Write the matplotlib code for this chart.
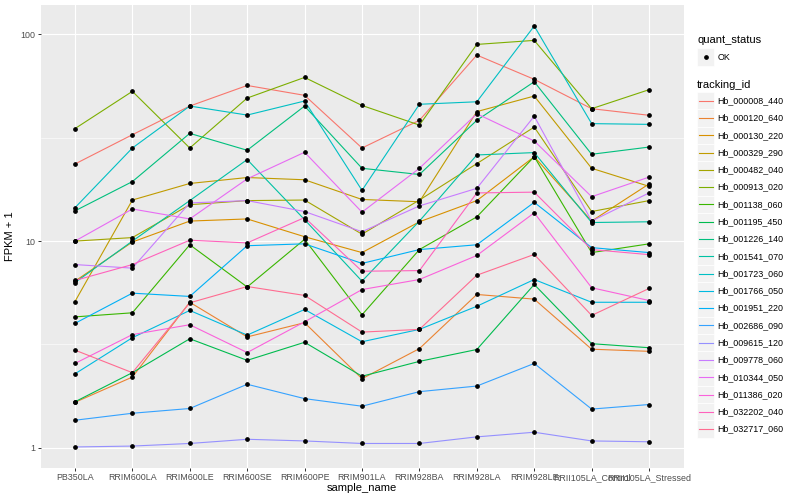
import numpy as np
import matplotlib.pyplot as plt
from matplotlib.patches import Rectangle

plt.rcParams['font.family'] = ['Liberation Sans', 'DejaVu Sans']

samples = ["PB350LA", "RRIM600LA", "RRIM600LE", "RRIM600SE", "RRIM600PE",
           "RRIM901LA", "RRIM928BA", "RRIM928LA", "RRIM928LE",
           "RRII105LA_Control", "RRII105LA_Stressed"]

tracking_ids = ["Hb_000008_440", "Hb_000120_640", "Hb_000130_220", "Hb_000329_290",
                "Hb_000482_040", "Hb_000913_020", "Hb_001138_060", "Hb_001195_450",
                "Hb_001226_140", "Hb_001541_070", "Hb_001723_060", "Hb_001766_050",
                "Hb_001951_220", "Hb_002686_090", "Hb_009615_120", "Hb_009778_060",
                "Hb_010344_050", "Hb_011386_020", "Hb_032202_040", "Hb_032717_060"]

# ggplot default hue palette, 20 levels
colors = ["#F8766D", "#EA8331", "#D89000", "#C09B00", "#A3A500", "#7CAE00",
          "#39B600", "#00BB4E", "#00BF7D", "#00C1A3", "#00BFC4", "#00BAE0",
          "#00B0F6", "#35A2FF", "#9590FF", "#C77CFF", "#E76BF3", "#FA62DB",
          "#FF62BC", "#FF6C91"]

# FPKM + 1 per sample (same order as samples)
fpkm_000008_440 = [23.6, 32.7, 45.0, 56.6, 50.7, 28.2, 38.4, 79.4, 60.6, 43.7, 40.6]
fpkm_000120_640 = [1.66, 2.20, 5.06, 3.44, 4.03, 2.16, 3.02, 5.52, 5.24, 3.00, 2.93]
fpkm_000130_220 = [6.4, 9.9, 12.5, 12.8, 10.5, 8.8, 12.4, 15.7, 25.6, 12.5, 18.9]
fpkm_000329_290 = [5.1, 15.8, 19.0, 20.3, 19.8, 15.9, 15.5, 42.3, 50.3, 22.5, 18.4]
fpkm_000482_040 = [10.0, 10.4, 15.0, 15.7, 15.8, 10.8, 15.8, 23.7, 35.6, 13.9, 15.7]
fpkm_000913_020 = [35.0, 53.0, 28.2, 49.2, 61.9, 45.3, 36.4, 89.4, 93.5, 43.7, 54.0]
fpkm_001138_060 = [4.3, 4.5, 9.6, 6.0, 10.2, 4.4, 9.1, 13.1, 25.6, 8.8, 9.7]
fpkm_001195_450 = [1.67, 2.31, 3.37, 2.65, 3.24, 2.22, 2.62, 2.99, 6.17, 3.19, 3.05]
fpkm_001226_140 = [14.0, 19.4, 33.2, 27.5, 45.0, 22.5, 21.0, 38.4, 59.0, 26.3, 28.5]
fpkm_001541_070 = [6.3, 10.0, 15.7, 24.8, 12.7, 6.4, 12.5, 26.1, 26.8, 12.3, 12.4]
fpkm_001723_060 = [14.5, 28.2, 45.0, 40.7, 47.6, 17.6, 45.9, 47.2, 109.7, 37.0, 36.7]
fpkm_001766_050 = [2.28, 3.41, 4.62, 3.51, 4.67, 3.26, 3.74, 4.84, 6.52, 5.06, 5.06]
fpkm_001951_220 = [4.0, 5.6, 5.4, 9.5, 9.7, 7.8, 9.1, 9.6, 15.4, 9.3, 8.8]
fpkm_002686_090 = [1.36, 1.47, 1.55, 2.03, 1.73, 1.59, 1.87, 1.99, 2.56, 1.54, 1.62]
fpkm_009615_120 = [1.01, 1.02, 1.05, 1.10, 1.08, 1.05, 1.05, 1.13, 1.19, 1.08, 1.07]
fpkm_009778_060 = [7.7, 7.4, 15.3, 15.7, 13.9, 11.1, 14.8, 18.0, 40.2, 12.5, 17.1]
fpkm_010344_050 = [10.0, 14.3, 12.8, 20.0, 26.9, 13.8, 22.5, 41.3, 30.5, 16.4, 20.4]
fpkm_011386_020 = [2.56, 3.53, 3.94, 2.89, 4.07, 5.83, 6.52, 8.52, 13.7, 5.95, 5.16]
fpkm_032202_040 = [6.45, 7.7, 10.1, 9.8, 13.0, 7.15, 7.2, 17.1, 17.25, 9.1, 8.6]
fpkm_032717_060 = [2.97, 2.31, 5.03, 6.03, 5.46, 3.63, 3.74, 6.84, 8.62, 4.37, 5.90]

series = [fpkm_000008_440, fpkm_000120_640, fpkm_000130_220, fpkm_000329_290,
          fpkm_000482_040, fpkm_000913_020, fpkm_001138_060, fpkm_001195_450,
          fpkm_001226_140, fpkm_001541_070, fpkm_001723_060, fpkm_001766_050,
          fpkm_001951_220, fpkm_002686_090, fpkm_009615_120, fpkm_009778_060,
          fpkm_010344_050, fpkm_011386_020, fpkm_032202_040, fpkm_032717_060]

y_ticks = [1, 10, 100]
y_ticklabels = ["1", "10", "100"]

fig = plt.figure(figsize=(8, 5), dpi=100)
ax = fig.add_axes([40.5 / 800, 32 / 500, 643 / 800, 463 / 500])
ax.set_facecolor('#EBEBEB')

x = np.arange(len(samples))
for vals, col in zip(series, colors):
    ax.plot(x, vals, color=col, lw=0.8, zorder=3)
for vals in series:
    ax.plot(x, vals, 'o', color='black', ms=2.4, zorder=4)

ax.set_yscale('log')
allv = np.concatenate([np.log10(s) for s in series])
lo, hi = allv.min(), allv.max()
pad = 0.05 * (hi - lo)
ax.set_ylim(10 ** (lo - pad), 10 ** (hi + pad))
ax.set_xlim(-0.6, len(samples) - 0.4)

ax.set_yticks(y_ticks)
ax.set_yticklabels(y_ticklabels)
ax.set_yticks([10 ** 0.5, 10 ** 1.5], minor=True)
ax.yaxis.set_minor_formatter(plt.NullFormatter())
ax.set_xticks(x)
ax.set_xticklabels(samples)

ax.grid(True, which='major', color='white', lw=0.8, zorder=0)
ax.grid(True, which='minor', axis='y', color='white', lw=0.4, zorder=0)
ax.set_axisbelow(True)
for s in ax.spines.values():
    s.set_visible(False)
ax.tick_params(which='major', length=2, width=0.7, color='#333333',
               labelcolor='#4D4D4D', labelsize=6.4, pad=1.4)
ax.tick_params(which='minor', length=0)

ax.set_xlabel('sample_name', fontsize=8, labelpad=1)
ax.set_ylabel('FPKM + 1', fontsize=8, labelpad=4)

# legend drawn in pixel space
lg = fig.add_axes([0, 0, 1, 1], zorder=5)
lg.set_xlim(0, 800)
lg.set_ylim(500, 0)
lg.axis('off')

key_x, key_w, key_h = 697, 17.28, 17.28
lg.text(key_x, 40, 'quant_status', fontsize=8, va='center', ha='left')
lg.add_patch(Rectangle((key_x, 57 - key_h / 2), key_w, key_h, facecolor='#F2F2F2',
                       edgecolor='white', lw=0.5))
lg.plot(key_x + key_w / 2, 57, 'o', color='black', ms=2.4)
lg.text(key_x + key_w + 3, 57, 'OK', fontsize=6.4, va='center', ha='left')

lg.text(key_x, 84.5, 'tracking_id', fontsize=8, va='center', ha='left')
y0 = 100.8
for i, (name, col) in enumerate(zip(tracking_ids, colors)):
    yc = y0 + i * key_h
    lg.add_patch(Rectangle((key_x, yc - key_h / 2), key_w, key_h, facecolor='#F2F2F2',
                           edgecolor='white', lw=0.5))
    lg.plot([key_x + 1.7, key_x + key_w - 1.7], [yc, yc], color=col, lw=0.8)
    lg.text(key_x + key_w + 3, yc, name, fontsize=6.4, va='center', ha='left')

fig.savefig('out.png', dpi=100)
